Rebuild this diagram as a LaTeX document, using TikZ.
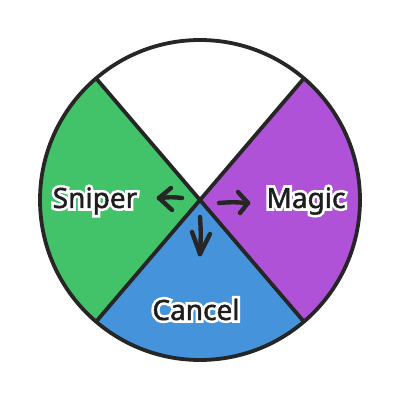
\documentclass[tikz,border=0pt]{standalone}
\usepackage{fontspec}
\setmainfont{Noto Sans}
\newfontfamily\halofont[FakeBold=20]{Noto Sans}
\newfontfamily\lblfont[FakeBold=1.5]{Noto Sans}
\usetikzlibrary{calc}
\definecolor{lineC}{HTML}{262626}
\definecolor{greenC}{HTML}{42C36A}
\definecolor{purpleC}{HTML}{B052D7}
\definecolor{blueC}{HTML}{4593DB}
\definecolor{txtC}{HTML}{1E1E1E}
\tikzset{
  sector/.style={line width=3.8pt, draw=lineC, line join=round},
  lbl/.style={font=\lblfont\fontsize{28}{32}\selectfont, text=txtC, anchor=base, inner sep=0pt},
  halo/.style={font=\halofont\fontsize{28}{32}\selectfont, text=white, anchor=base, inner sep=0pt},
  brush/.style={line width=4.4pt, draw=lineC, line cap=round, line join=round},
}
\begin{document}
\begin{tikzpicture}[x=1pt,y=1pt]
\useasboundingbox (0,0) rectangle (400,400);
\coordinate (c) at (200,200);
\def\R{160}
% sectors
\fill[white] (c) -- ++(49.5:\R) arc[start angle=49.5, end angle=130.5, radius=\R] -- cycle;
\fill[greenC] (c) -- ++(130.5:\R) arc[start angle=130.5, end angle=229.5, radius=\R] -- cycle;
\fill[blueC] (c) -- ++(229.5:\R) arc[start angle=229.5, end angle=310.5, radius=\R] -- cycle;
\fill[purpleC] (c) -- ++(-49.5:\R) arc[start angle=-49.5, end angle=49.5, radius=\R] -- cycle;
\coordinate (p1) at ($(c)+(49.5:\R)$);
\coordinate (p2) at ($(c)+(130.5:\R)$);
\coordinate (p3) at ($(c)+(229.5:\R)$);
\coordinate (p4) at ($(c)+(310.5:\R)$);
\draw[sector] (p2) -- (p4);
\draw[sector] (p1) -- (p3);
\draw[sector] (c) circle[radius=\R];
% labels
\node[halo] (sniperh) at (95,192) {Sniper};
\node[lbl] (sniper) at (95,192) {Sniper};
\node[halo] (magich) at (306,192) {Magic};
\node[lbl] (magic) at (306,192) {Magic};
\node[halo] (cancelh) at (196,80) {Cancel};
\node[lbl] (cancel) at (196,80) {Cancel};
% arrows
\coordinate (la) at (182,202);
\coordinate (lt) at (159,202);
\coordinate (ra) at (219,197);
\coordinate (rt) at (248,197);
\coordinate (da) at (200,183);
\coordinate (dt) at (200,146);
\draw[brush] (la) .. controls (172,203) .. (lt);
\draw[brush] (lt) -- (171,212);
\draw[brush] (lt) -- (172,190);
\draw[brush] (ra) .. controls (232,198) .. (rt);
\draw[brush] (rt) -- (238,208);
\draw[brush] (rt) -- (240,187);
\draw[brush] (da) .. controls (201,166) .. (dt);
\draw[brush] (dt) -- (192,168);
\draw[brush] (dt) -- (210,166);
\end{tikzpicture}
\end{document}
